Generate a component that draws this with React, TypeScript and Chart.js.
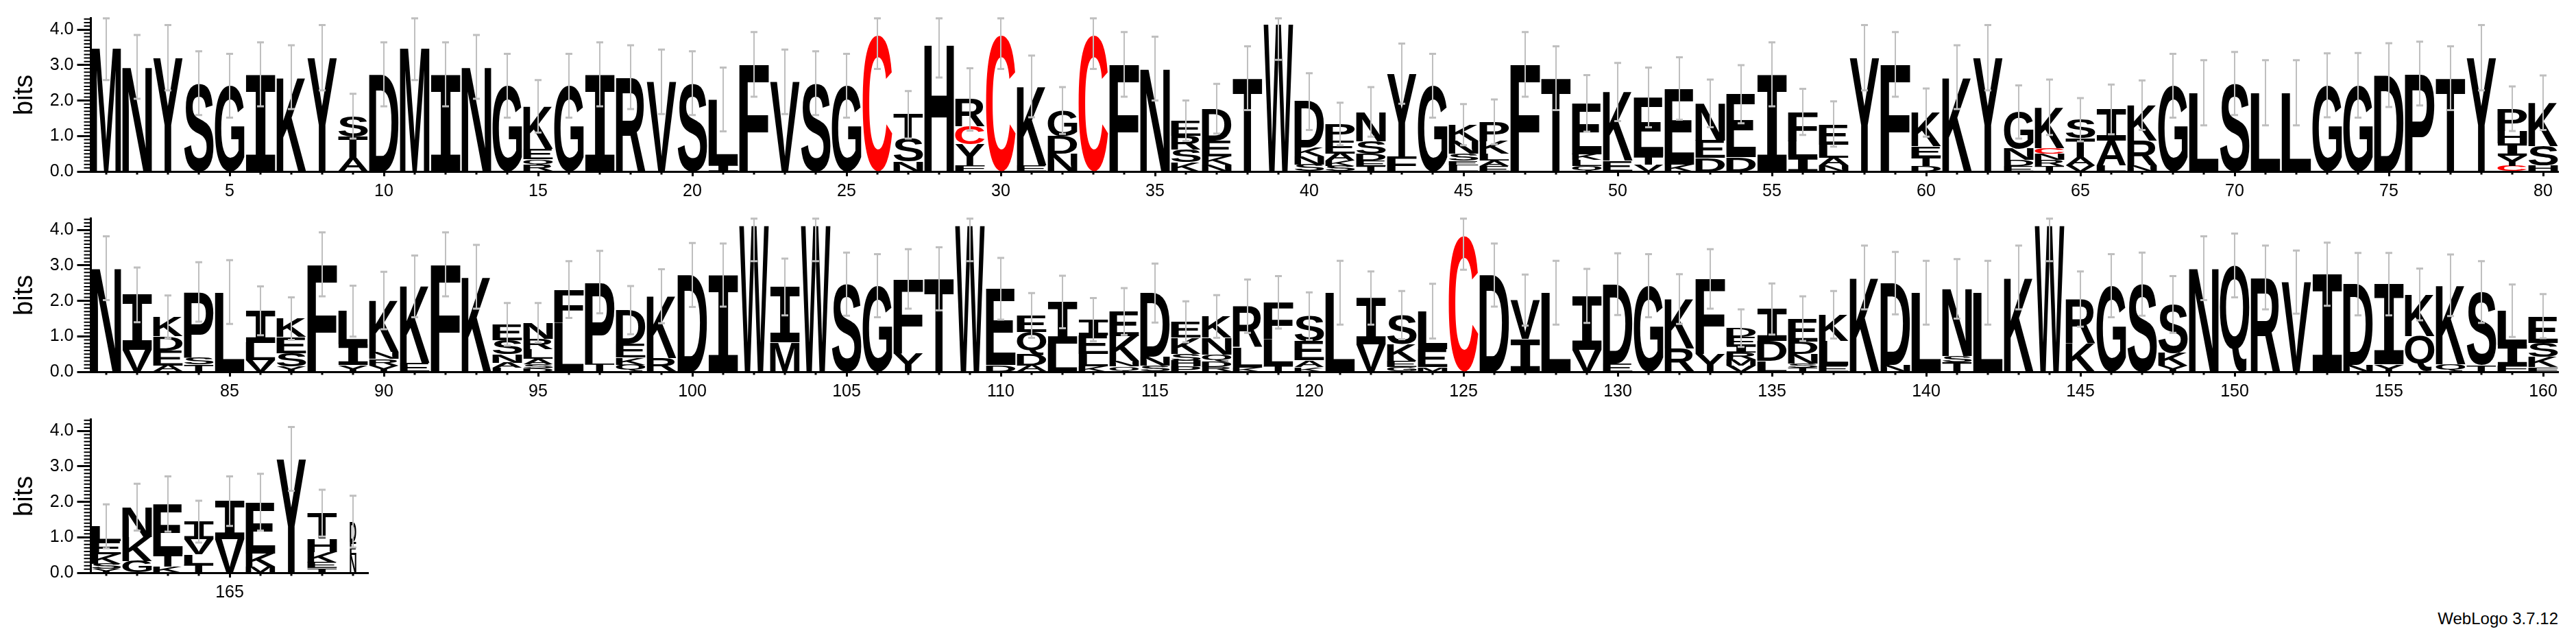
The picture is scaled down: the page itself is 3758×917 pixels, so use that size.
import React, { useEffect, useRef } from "react";
import { Chart, registerables } from "chart.js";
Chart.register(...registerables);

// ---- data: letters of each stack (top -> bottom) and their heights in bits ----
const STACK_LETTERS: string[] = [
  "M", "N", "Y", "S", "G", "I", "K", "Y", "STA", "D",
  "M", "I", "N", "G", "KEQR", "G", "I", "R", "V", "S",
  "LI", "F", "V", "S", "G", "C", "TSN", "H", "RCYF", "C",
  "KE", "GDN", "C", "F", "N", "ERSK", "DEKN", "T", "W", "DKNS",
  "PEAKS", "NSDET", "YF", "G", "KNSEL", "PKLAE", "F", "T", "EKLQ", "KE",
  "ETV", "EK", "NED", "ED", "I", "FLI", "ELAN", "Y", "F", "KETD",
  "K", "Y", "GNDE", "KCNRT", "STAV", "IAL", "KRN", "G", "L", "S",
  "L", "L", "G", "G", "D", "P", "T", "Y", "PHIYC", "KSH",
  "N", "IV", "KDEA", "PST", "L", "ILV", "KESY", "F", "LIY", "KNRY",
  "KE", "F", "K", "ESNAL", "NRLASD", "FL", "PT", "DEKQ", "KR", "D",
  "I", "W", "IM", "W", "S", "G", "FY", "T", "W", "ED",
  "EQDA", "IL", "IELK", "EKNQ", "DNS", "EKSHP", "KNQDR", "RLK", "FLT", "SEAK",
  "L", "IV", "SKEG", "LEM", "C", "D", "VI", "L", "IV", "DE",
  "G", "KR", "FY", "DEIRMV", "IDL", "EDNST", "KLE", "K", "DN", "L",
  "NST", "L", "K", "W", "RK", "G", "S", "SKY", "N", "Q",
  "R", "V", "I", "DN", "IY", "KQ", "KQ", "ST", "LIF", "ESKF",
  "LEKSY", "NKG", "ETK", "IVLT", "IV", "EKM", "Y", "THKET", "DEN",
];

const STACK_BITS: number[][] = [
  [3.5], [2.95], [3.21], [2.49], [2.42], [2.74], [2.66], [3.21], [0.58, 0.6, 0.38], [2.74],
  [3.5], [2.74], [2.95], [2.42], [1.2, 0.29, 0.17, 0.18], [2.42], [2.74], [2.66], [2.53], [2.49],
  [1.83, 0.2], [3.02], [2.53], [2.49], [2.42], [3.84], [0.66, 0.65, 0.29], [3.58], [0.76, 0.5, 0.6, 0.17], [3.84],
  [2.23, 0.17], [0.72, 0.5, 0.5], [3.84], [3.02], [2.9], [0.42, 0.39, 0.36, 0.26], [0.9, 0.45, 0.22, 0.2], [2.63], [4.15], [1.3, 0.25, 0.22, 0.2],
  [0.47, 0.36, 0.21, 0.14, 0.16], [0.82, 0.36, 0.2, 0.14, 0.16], [2.33, 0.43], [2.42], [0.44, 0.37, 0.21, 0.13, 0.17], [0.54, 0.36, 0.2, 0.14, 0.16], [3.02], [2.63], [1.43, 0.17, 0.16, 0.16], [1.94, 0.3],
  [1.67, 0.22, 0.2], [2.14, 0.2], [1.04, 0.5, 0.38], [1.78, 0.4], [2.74], [0.82, 0.46, 0.4], [0.58, 0.37, 0.22, 0.17], [3.21], [3.02], [0.95, 0.3, 0.25, 0.16],
  [2.66], [3.21], [1.04, 0.32, 0.16, 0.16], [1.15, 0.16, 0.18, 0.16, 0.16], [0.52, 0.55, 0.22, 0.17], [0.88, 0.7, 0.17], [1.0, 0.7, 0.17], [2.42], [2.22], [2.48],
  [2.22], [2.22], [2.43], [2.43], [2.72], [2.76], [2.63], [3.21], [0.62, 0.35, 0.35, 0.3, 0.15], [1.22, 0.55, 0.17],
  [2.92], [1.55, 0.62], [0.55, 0.4, 0.43, 0.17], [1.84, 0.2, 0.21], [2.25], [0.9, 0.5, 0.32], [0.52, 0.45, 0.38, 0.15], [3.03], [0.94, 0.58, 0.19], [1.45, 0.2, 0.18, 0.18],
  [2.16, 0.25], [3.03], [2.68], [0.45, 0.4, 0.23, 0.14, 0.12], [0.45, 0.3, 0.27, 0.14, 0.12, 0.1], [0.93, 1.39], [2.3, 0.23], [0.94, 0.4, 0.2, 0.2], [1.75, 0.38], [2.73],
  [2.73], [4.12], [1.56, 0.83], [4.12], [2.47], [2.43], [2.1, 0.52], [2.62], [4.12], [2.15, 0.19],
  [0.46, 0.64, 0.31, 0.18], [1.17, 0.8], [0.45, 0.52, 0.35, 0.15], [0.7, 0.7, 0.15, 0.15], [1.8, 0.25, 0.17], [0.45, 0.45, 0.2, 0.16, 0.15], [0.6, 0.48, 0.2, 0.14, 0.14], [1.15, 0.58, 0.12], [1.05, 0.73, 0.18], [0.7, 0.55, 0.18, 0.14],
  [2.23], [1.3, 0.78], [0.82, 0.47, 0.17, 0.14], [1.07, 0.5, 0.14], [3.83], [2.73], [1.1, 0.92], [2.23], [1.52, 0.62], [2.24, 0.23],
  [2.43], [1.4, 0.65], [2.12, 0.5], [0.25, 0.24, 0.2, 0.2, 0.16, 0.18], [0.9, 0.57, 0.3], [0.65, 0.34, 0.27, 0.12, 0.12], [0.74, 0.69, 0.18], [2.66], [2.3, 0.2], [2.23],
  [1.9, 0.17, 0.27], [2.23], [2.66], [4.12], [1.25, 0.8], [2.43], [2.47], [1.37, 0.36, 0.17], [2.92], [3.0],
  [2.66], [2.53], [2.75], [2.27, 0.2], [2.26, 0.21], [1.18, 1.0], [2.23, 0.21], [2.07, 0.18], [0.97, 0.58, 0.17], [0.75, 0.4, 0.29, 0.13],
  [0.42, 0.36, 0.27, 0.14, 0.12], [0.84, 0.68, 0.33], [1.41, 0.35, 0.18], [0.5, 0.42, 0.28, 0.24], [1.07, 0.95], [1.44, 0.37, 0.18], [3.21], [0.72, 0.37, 0.3, 0.16, 0.13], [0.56, 0.38, 0.5],
];

// half-length of each grey error bar, in bits
const ERROR_BITS: number[] = [
  0.92, 0.9, 0.92, 0.9, 0.9, 0.9, 0.9, 0.92, 0.63, 0.9,
  0.92, 0.9, 0.9, 0.9, 0.74, 0.9, 0.9, 0.9, 0.91, 0.9,
  0.9, 0.91, 0.91, 0.9, 0.9, 0.95, 0.67, 0.93, 0.88, 0.95,
  0.87, 0.66, 0.95, 0.91, 0.9, 0.57, 0.7, 0.9, 1.0, 0.8,
  0.6, 0.7, 0.85, 0.9, 0.58, 0.63, 0.91, 0.9, 0.8, 0.82,
  0.84, 0.88, 0.67, 0.82, 0.9, 0.65, 0.64, 0.92, 0.91, 0.68,
  0.9, 0.92, 0.75, 0.78, 0.61, 0.7, 0.7, 0.9, 0.92, 0.89,
  0.92, 0.92, 0.9, 0.91, 0.9, 0.9, 0.9, 0.92, 0.63, 0.77,
  0.9, 0.77, 0.6, 0.84, 0.9, 0.69, 0.6, 0.9, 0.72, 0.81,
  0.87, 0.9, 0.9, 0.6, 0.56, 0.8, 0.88, 0.68, 0.76, 0.9,
  0.89, 1.0, 0.8, 1.0, 0.89, 0.89, 0.84, 0.89, 1.0, 0.87,
  0.63, 0.74, 0.61, 0.66, 0.83, 0.58, 0.6, 0.75, 0.74, 0.67,
  0.9, 0.75, 0.68, 0.77, 0.95, 0.89, 0.72, 0.9, 0.76, 0.87,
  0.89, 0.7, 0.84, 0.53, 0.72, 0.63, 0.67, 0.9, 0.88, 0.9,
  0.84, 0.9, 0.9, 1.0, 0.78, 0.89, 0.89, 0.8, 0.9, 0.9,
  0.9, 0.89, 0.89, 0.88, 0.88, 0.73, 0.87, 0.87, 0.74, 0.62,
  0.62, 0.66, 0.78, 0.59, 0.7, 0.8, 0.9, 0.66, 0.73,
];

// stack width as fraction of a full column (columns not listed are full width)
const COLUMN_FRACTION: Record<number, number> = { 169: 0.22 };

const Y_TICKS: number[] = [0, 1, 2, 3, 4];
const Y_MAX = 4.32;
const ROW_FIRST: number[] = [1, 81, 161];
const ROW_SLOTS: number[] = [80, 80, 9];

// ---- layout / style ----
const FONT = '"Liberation Sans", Arial, Helvetica, sans-serif';
const CANVAS_H = 292;
const PLOT_TOP = 26.7;
const PLOT_BOTTOM = 250;
const PLOT_LEFT = 132.5;
const SLOT_PX = 45;
const ROW_TOPS = [0, 292, 585];
const ROW_WIDTHS = [3758, 3758, 600];
const RED = "#ff0000";
const BLACK = "#000000";
const ERR_COLOR = "#bfbfbf";

function drawGlyph(ctx: CanvasRenderingContext2D, ch: string, x0: number, y0: number, w: number, h: number, color: string) {
  if (w < 0.5 || h < 0.5) return;
  ctx.save();
  ctx.font = ch === "I" ? 'bold 200px "DejaVu Sans Mono"' : `bold 200px ${FONT}`;
  ctx.textAlign = "left";
  ctx.textBaseline = "alphabetic";
  const m = ctx.measureText(ch);
  const gl = m.actualBoundingBoxLeft;
  const gr = m.actualBoundingBoxRight;
  const ga = m.actualBoundingBoxAscent;
  const gd = m.actualBoundingBoxDescent;
  const gw = gl + gr;
  const gh = ga + gd;
  if (gw <= 0 || gh <= 0) { ctx.restore(); return; }
  ctx.translate(x0, y0);
  ctx.scale(w / gw, h / gh);
  ctx.fillStyle = color;
  ctx.fillText(ch, gl, ga);
  ctx.restore();
}

function makePlugin(indices: number[], labels: string[]) {
  return {
    id: "seqlogo",
    afterDatasetsDraw(chart: any) {
      const ctx: CanvasRenderingContext2D = chart.ctx;
      chart.data.datasets.forEach((ds: any, d: number) => {
        const meta = chart.getDatasetMeta(d);
        meta.data.forEach((el: any, k: number) => {
          const ch = ds.letters[k];
          if (!ch) return;
          const p = el.getProps(["x", "y", "base", "width"], true);
          const frac = COLUMN_FRACTION[indices[k] + 1] ?? 1;
          const w = (p.width - 2) * frac;
          const top = Math.min(p.y, p.base);
          const h = Math.abs(p.base - p.y);
          drawGlyph(ctx, ch, p.x - w / 2, top, w, h, ch === "C" ? RED : BLACK);
        });
      });
      const xs = chart.scales.x;
      const ys = chart.scales.y;
      ctx.save();
      ctx.strokeStyle = ERR_COLOR;
      ctx.lineCap = "butt";
      indices.forEach((i, k) => {
        const total = STACK_BITS[i].reduce((a, b) => a + b, 0);
        const err = ERROR_BITS[i];
        const x = xs.getPixelForValue(k);
        const yHi = ys.getPixelForValue(Math.min(total + err, Y_MAX));
        const yLo = ys.getPixelForValue(Math.max(total - err, 0));
        ctx.lineWidth = 2;
        ctx.beginPath();
        ctx.moveTo(x, yHi);
        ctx.lineTo(x, yLo);
        ctx.stroke();
        ctx.lineWidth = 3;
        ctx.beginPath();
        ctx.moveTo(x - 5, yHi);
        ctx.lineTo(x + 5, yHi);
        ctx.moveTo(x - 5, yLo);
        ctx.lineTo(x + 5, yLo);
        ctx.stroke();
      });
      ctx.restore();
    },
    afterDraw(chart: any) {
      const ctx: CanvasRenderingContext2D = chart.ctx;
      const xs = chart.scales.x;
      const ys = chart.scales.y;
      const area = chart.chartArea;
      ctx.save();
      ctx.strokeStyle = BLACK;
      ctx.lineWidth = 2;
      ctx.beginPath();
      for (let t = 1; t <= 43; t++) {
        if (t % 10 === 0) continue;
        const y = ys.getPixelForValue(t / 10);
        ctx.moveTo(area.left - 10, y);
        ctx.lineTo(area.left, y);
      }
      ctx.stroke();
      ctx.lineWidth = 3;
      ctx.beginPath();
      labels.forEach((lab, k) => {
        if (Number(lab) % 5 === 0) return;
        const x = xs.getPixelForValue(k);
        ctx.moveTo(x, area.bottom + 1.5);
        ctx.lineTo(x, area.bottom + 4.5);
      });
      ctx.stroke();
      ctx.restore();
    },
  };
}

function makeRowConfig(row: number): any {
  const first = ROW_FIRST[row];
  const n = ROW_SLOTS[row];
  const indices: number[] = [];
  for (let k = 0; k < n; k++) indices.push(first - 1 + k);
  const labels = indices.map((i) => String(i + 1));
  const layers = Math.max(...indices.map((i) => STACK_LETTERS[i].length));
  const datasets: any[] = [];
  for (let L = 0; L < layers; L++) {
    datasets.push({
      data: indices.map((i) => {
        const j = STACK_LETTERS[i].length - 1 - L;
        return j >= 0 ? STACK_BITS[i][j] : 0;
      }),
      letters: indices.map((i) => {
        const j = STACK_LETTERS[i].length - 1 - L;
        return j >= 0 ? STACK_LETTERS[i][j] : "";
      }),
      backgroundColor: "rgba(0,0,0,0)",
      borderWidth: 0,
      barPercentage: 1,
      categoryPercentage: 1,
    });
  }
  const width = ROW_WIDTHS[row];
  const plotRight = PLOT_LEFT + n * SLOT_PX;
  return {
    type: "bar",
    data: { labels, datasets },
    plugins: [makePlugin(indices, labels)],
    options: {
      animation: false,
      responsive: false,
      devicePixelRatio: 1,
      events: [],
      layout: { padding: { left: 0, top: PLOT_TOP, right: width - plotRight, bottom: 0 } },
      plugins: { legend: { display: false }, tooltip: { enabled: false }, title: { display: false } },
      scales: {
        x: {
          type: "category",
          stacked: true,
          offset: true,
          grid: {
            display: true,
            drawOnChartArea: false,
            offset: false,
            tickLength: 7,
            tickWidth: 3,
            tickColor: (c: any) => (Number(labels[c.index]) % 5 === 0 ? BLACK : "rgba(0,0,0,0)"),
          },
          border: { display: true, color: BLACK, width: 3 },
          ticks: {
            autoSkip: false,
            maxRotation: 0,
            minRotation: 0,
            padding: 7,
            color: BLACK,
            font: { family: FONT, size: 25 },
            callback: (_v: any, i: number) => (Number(labels[i]) % 5 === 0 ? labels[i] : ""),
          },
          afterFit: (s: any) => { s.height = CANVAS_H - PLOT_BOTTOM; },
        },
        y: {
          stacked: true,
          min: 0,
          max: Y_MAX,
          afterBuildTicks: (s: any) => { s.ticks = Y_TICKS.map((v) => ({ value: v })); },
          grid: { drawOnChartArea: false, tickLength: 20, tickWidth: 3, tickColor: BLACK },
          border: { display: true, color: BLACK, width: 3 },
          ticks: {
            padding: 5,
            color: BLACK,
            font: { family: FONT, size: 25 },
            callback: (v: any) => Number(v).toFixed(1),
          },
          title: {
            display: true,
            text: "bits",
            color: BLACK,
            font: { family: FONT, size: 38 },
            padding: { top: 14, bottom: 0 },
          },
          afterFit: (s: any) => { s.width = PLOT_LEFT; },
        },
      },
    },
  };
}

function LogoRow({ row }: { row: number }) {
  const ref = useRef<HTMLCanvasElement>(null);
  useEffect(() => {
    if (!ref.current) return;
    const chart = new Chart(ref.current, makeRowConfig(row));
    return () => chart.destroy();
  }, [row]);
  return (
    <canvas
      ref={ref}
      width={ROW_WIDTHS[row]}
      height={CANVAS_H}
      style={{ position: "absolute", left: 0, top: ROW_TOPS[row], width: ROW_WIDTHS[row], height: CANVAS_H }}
    />
  );
}

export default function App() {
  return (
    <div style={{ position: "absolute", left: 0, top: 0, width: 3758, height: 917, background: "#ffffff", overflow: "hidden" }}>
      {[0, 1, 2].map((r) => (
        <LogoRow key={r} row={r} />
      ))}
      <div
        style={{
          position: "absolute",
          right: 26,
          top: 890,
          font: `24px ${FONT}`,
          lineHeight: "24px",
          color: BLACK,
          whiteSpace: "nowrap",
        }}
      >
        WebLogo 3.7.12
      </div>
    </div>
  );
}
